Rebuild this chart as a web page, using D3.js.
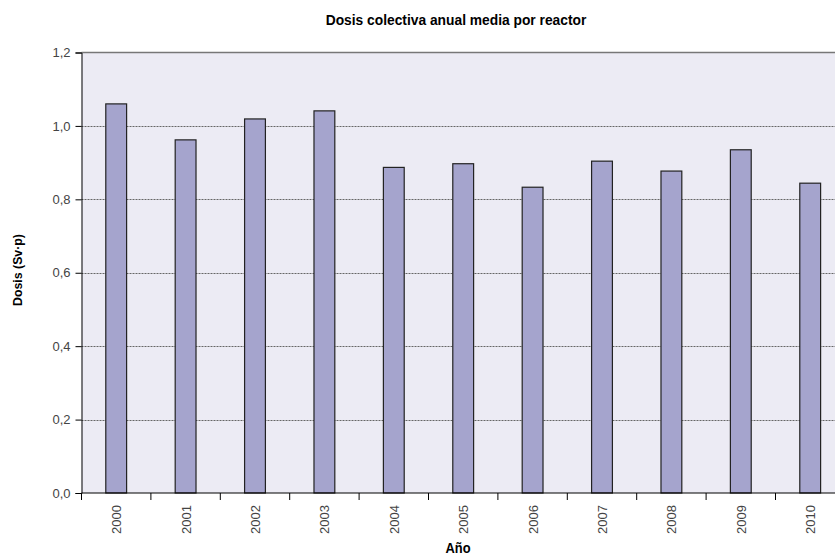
<!DOCTYPE html>
<html>
<head>
<meta charset="utf-8">
<script src="https://cdn.jsdelivr.net/npm/d3@7"></script>
<style>
  body { margin: 0; background: #fff; }
  svg text { font-family: "Liberation Sans", Arial, sans-serif; }
</style>
</head>
<body>
<svg id="chart" width="835" height="557"></svg>
<script>
// values
const years = ["2000", "2001", "2002", "2003", "2004", "2005", "2006", "2007", "2008", "2009", "2010"];
const dose = [1.060, 0.962, 1.019, 1.041, 0.887, 0.897, 0.833, 0.904, 0.877, 0.935, 0.844];
const yTicks = [0, 0.2, 0.4, 0.6, 0.8, 1.0, 1.2];

const svg = d3.select("#chart");
const plotLeft = 81.5, plotTop = 52.5, plotBottom = 493;
const step = 69.4;
const plotRight = plotLeft + step * years.length;

const x = d3.scaleBand().domain(years).range([plotLeft, plotRight]).padding(0);
const y = d3.scaleLinear().domain([0, 1.2]).range([plotBottom, plotTop]);
const fmt = v => d3.format(".1f")(v).replace(".", ",");

// plot background
svg.append("rect")
    .attr("x", plotLeft).attr("y", plotTop)
    .attr("width", plotRight - plotLeft).attr("height", plotBottom - plotTop)
    .attr("fill", "#ecebf4");

// dotted gridlines
svg.append("g").selectAll("line")
    .data(yTicks.filter(d => d > 0 && d < 1.2))
    .join("line")
    .attr("x1", plotLeft).attr("x2", plotRight)
    .attr("y1", d => Math.round(y(d)) + 0.5).attr("y2", d => Math.round(y(d)) + 0.5)
    .attr("stroke", "#666").attr("stroke-width", 1)
    .attr("stroke-dasharray", "2,1");

// top border
svg.append("line")
    .attr("x1", plotLeft).attr("x2", plotRight)
    .attr("y1", plotTop).attr("y2", plotTop)
    .attr("stroke", "#777").attr("stroke-width", 1.5);

// bars
const barW = x.bandwidth() * 0.3;
svg.append("g").selectAll("rect")
    .data(years)
    .join("rect")
    .attr("x", (d) => x(d) + (x.bandwidth() - barW) / 2)
    .attr("y", (d, i) => y(dose[i]))
    .attr("width", barW)
    .attr("height", (d, i) => plotBottom - y(dose[i]))
    .attr("fill", "#a5a4cd")
    .attr("stroke", "#222").attr("stroke-width", 1.2);

// y axis
const yAxis = d3.axisLeft(y).tickValues(yTicks).tickSize(6).tickPadding(5).tickFormat(fmt);
const gy = svg.append("g").attr("transform", `translate(${plotLeft},0)`).call(yAxis);
gy.select(".domain").attr("stroke", "#000");
gy.selectAll(".tick line").attr("stroke", "#000");
gy.selectAll(".tick text").attr("font-size", 13).attr("fill", "#444");

// x axis: ticks at category boundaries
const gx = svg.append("g").attr("transform", `translate(0,${plotBottom})`);
gx.append("line").attr("x1", plotLeft).attr("x2", plotRight).attr("stroke", "#000");
gx.selectAll("line.tk")
    .data(years.map(d => x(d)))
    .join("line").attr("class", "tk")
    .attr("x1", d => d).attr("x2", d => d)
    .attr("y1", 0).attr("y2", 7)
    .attr("stroke", "#000");
gx.selectAll("text")
    .data(years)
    .join("text")
    .attr("transform", d => `translate(${x(d) + x.bandwidth() / 2 + 5},12) rotate(-90)`)
    .attr("text-anchor", "end")
    .attr("font-size", 13).attr("fill", "#444")
    .text(d => d);

// title and axis titles (condensed bold look)
svg.append("text")
    .attr("transform", "translate(456,25) scale(0.92,1)")
    .attr("text-anchor", "middle")
    .attr("font-weight", "bold").attr("font-size", 15)
    .text("Dosis colectiva anual media por reactor");

svg.append("text")
    .attr("transform", "translate(22,270) rotate(-90) scale(0.95,1)")
    .attr("text-anchor", "middle")
    .attr("font-weight", "bold").attr("font-size", 13)
    .text("Dosis (Sv·p)");

svg.append("text")
    .attr("transform", "translate(458,553) scale(0.92,1)")
    .attr("text-anchor", "middle")
    .attr("font-weight", "bold").attr("font-size", 14)
    .text("Año");
</script>
</body>
</html>
